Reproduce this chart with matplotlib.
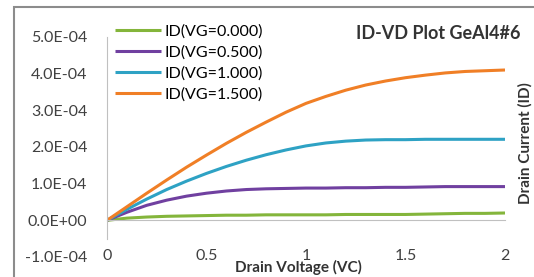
import numpy as np
import matplotlib
matplotlib.use("Agg")
import matplotlib.pyplot as plt
from matplotlib.patches import Rectangle

plt.rcParams['font.family'] = ['Lato', 'DejaVu Sans']

# データ (単位: 1e-4 A)
vd = [0.0, 0.1, 0.2, 0.3, 0.4, 0.5, 0.6, 0.7, 0.8, 0.9, 1.0,
      1.1, 1.2, 1.3, 1.4, 1.5, 1.6, 1.7, 1.8, 1.9, 2.0]
id_vg000 = [0, 0.06, 0.09, 0.11, 0.12, 0.13, 0.14, 0.14, 0.15, 0.15, 0.15,
            0.15, 0.16, 0.16, 0.16, 0.16, 0.17, 0.18, 0.19, 0.19, 0.20]
id_vg050 = [0, 0.22, 0.41, 0.55, 0.66, 0.74, 0.80, 0.84, 0.86, 0.87, 0.88,
            0.88, 0.89, 0.89, 0.90, 0.90, 0.91, 0.92, 0.92, 0.92, 0.92]
id_vg100 = [0, 0.30, 0.58, 0.84, 1.07, 1.28, 1.47, 1.64, 1.79, 1.92, 2.03,
            2.11, 2.16, 2.19, 2.20, 2.20, 2.21, 2.21, 2.21, 2.21, 2.21]
id_vg150 = [0, 0.37, 0.74, 1.10, 1.45, 1.78, 2.10, 2.40, 2.68, 2.95, 3.19,
            3.38, 3.55, 3.69, 3.80, 3.89, 3.96, 4.02, 4.06, 4.08, 4.10]
labels = ['ID(VG=0.000)', 'ID(VG=0.500)', 'ID(VG=1.000)', 'ID(VG=1.500)']
x_ticks = [0, 0.5, 1, 1.5, 2]
x_tick_labels = ['0', '0.5', '1', '1.5', '2']
y_ticks = [-1e-4, 0, 1e-4, 2e-4, 3e-4, 4e-4, 5e-4]
y_tick_labels = ['-1.0E-04', '0.0E+00', '1.0E-04', '2.0E-04', '3.0E-04', '4.0E-04', '5.0E-04']

colors = ['#84B53B', '#7040A0', '#2EA2C4', '#F07F26']

W, H = 534, 277
fig = plt.figure(figsize=(W / 100, H / 100), dpi=100)
ax = fig.add_axes([107 / W, 1 - 257 / H, (505 - 107) / W, (257 - 37) / H])

# 外枠
fig.patches.append(Rectangle((14 / W, -0.1), 1.2, 1 - 7 / H + 0.1,
                             transform=fig.transFigure, fill=False,
                             edgecolor='#8C8C8C', linewidth=1.5))

series = [id_vg000, id_vg050, id_vg100, id_vg150]
for ys, c, lab in zip(series, colors, labels):
    ax.plot(vd, np.array(ys) * 1e-4, color=c, linewidth=2.2, label=lab,
            solid_capstyle='butt')

ax.set_xlim(0, 2)
ax.set_ylim(-1e-4, 5e-4)
ax.set_xticks(x_ticks)
ax.set_xticklabels(x_tick_labels)
ax.set_yticks(y_ticks)
ax.set_yticklabels(y_tick_labels)

for s in ['top', 'right']:
    ax.spines[s].set_visible(False)
ax.spines['bottom'].set_position(('data', 0))
ax.spines['bottom'].set_color('#C0C0C0')
ax.spines['left'].set_color('#C0C0C0')
ax.spines['left'].set_bounds(-0.5e-4, 5e-4)
ax.tick_params(axis='x', length=0, pad=21, labelsize=11.5, colors='#404040')
ax.tick_params(axis='y', length=0, pad=14, labelsize=11.5, colors='#404040')
ax.patch.set_alpha(0)

ax.legend(loc='upper left', bbox_to_anchor=(8 / 398, 1 + 13 / 220), frameon=False,
          fontsize=11.5, handlelength=2.9, handletextpad=0.2, labelspacing=0.42,
          borderaxespad=0, borderpad=0)

ax.text(1.038, 1 + 4 / 220, 'ID-VD Plot GeAl4#6', transform=ax.transAxes,
        ha='right', va='center', fontsize=13, fontweight='bold', color='#333333')
ax.set_xlabel('Drain Voltage (VC)', fontsize=11, fontweight='bold', color='#333333')
ax.xaxis.set_label_coords(0.48, -0.015)
fig.text(525 / W, 1 - 143 / H, 'Drain Current (ID)', rotation=90, ha='center', va='center',
         fontsize=11, fontweight='bold', color='#333333')

fig.savefig('out.png', dpi=100)
